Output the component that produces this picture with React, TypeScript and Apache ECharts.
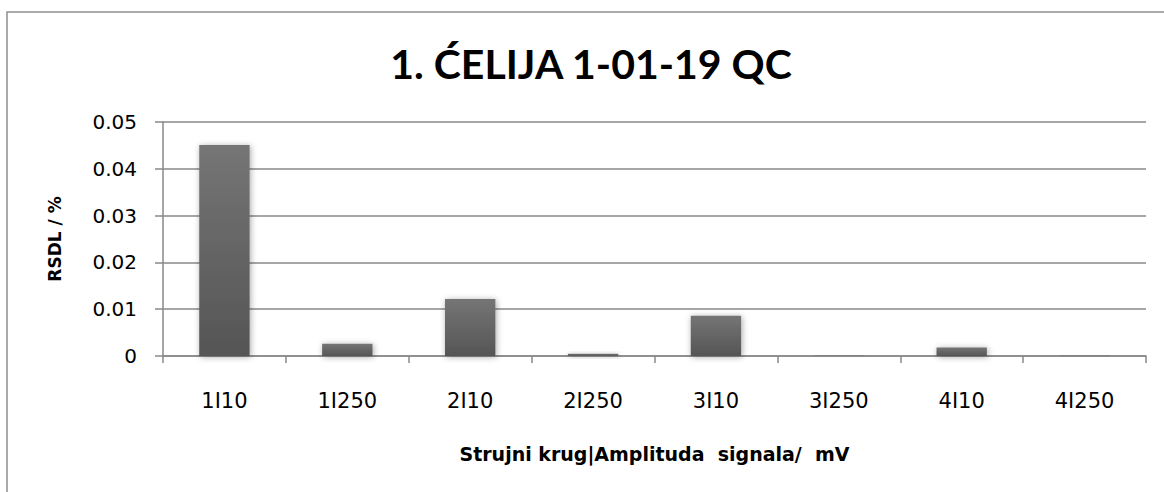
import React, { useEffect, useRef } from "react";
import * as echarts from "echarts";

const categories = ["1I10", "1I250", "2I10", "2I250", "3I10", "3I250", "4I10", "4I250"];
const rsdlValues = [0.0451, 0.0026, 0.0122, 0.0005, 0.0086, 0.0001, 0.0018, 0.0001];
const yTicks = { min: 0, max: 0.05, interval: 0.01 };
const titleText = "1. ĆELIJA 1-01-19 QC";
const yAxisName = "RSDL / %";
const xAxisName = "Strujni krug|Amplituda  signala/  mV";

export default function App() {
  const ref = useRef<HTMLDivElement>(null);
  useEffect(() => {
    if (!ref.current) return;
    const chart = echarts.init(ref.current, undefined, { renderer: "svg" });
    const titleFont = "Lato, 'Open Sans', sans-serif";
    const font = "'DejaVu Sans', 'Open Sans', sans-serif";
    chart.setOption({
      animation: false,
      backgroundColor: "#ffffff",
      title: {
        text: titleText,
        left: 586,
        top: 38,
        textAlign: "center",
        textStyle: { fontFamily: titleFont, fontSize: 41, fontWeight: "bold", color: "#000" },
      },
      graphic: [
        {
          type: "rect",
          shape: { x: 7, y: 12, width: 1200, height: 600 },
          style: { fill: "none", stroke: "#8f8f8f", lineWidth: 1.5 },
          silent: true,
        },
      ],
      grid: { left: 163, right: 18, top: 122, bottom: 136 },
      xAxis: {
        type: "category",
        data: categories,
        name: xAxisName,
        nameLocation: "middle",
        nameGap: 88,
        nameTextStyle: { fontFamily: font, fontSize: 19, fontWeight: "bold", color: "#000" },
        axisLine: { show: true, lineStyle: { color: "#888", width: 1.5 } },
        axisTick: { show: true, length: 7, lineStyle: { color: "#888", width: 1.5 } },
        axisLabel: { fontFamily: font, fontSize: 21, color: "#000", margin: 34 },
      },
      yAxis: {
        type: "value",
        min: yTicks.min,
        max: yTicks.max,
        interval: yTicks.interval,
        name: yAxisName,
        nameLocation: "middle",
        nameGap: 100,
        nameTextStyle: { fontFamily: font, fontSize: 17, fontWeight: "bold", color: "#000" },
        axisLine: { show: true, lineStyle: { color: "#888", width: 1.5 } },
        axisTick: { show: true, length: 8, lineStyle: { color: "#888", width: 1.5 } },
        axisLabel: {
          fontFamily: font,
          fontSize: 20,
          color: "#000",
          margin: 26,
          formatter: (v: number) => (v === 0 ? "0" : v.toFixed(2)),
        },
        splitLine: { show: true, lineStyle: { color: "#888", width: 1.5 } },
      },
      series: [
        {
          type: "bar",
          data: rsdlValues,
          barWidth: "41%",
          itemStyle: {
            color: new echarts.graphic.LinearGradient(0, 0, 0, 1, [
              { offset: 0, color: "#757575" },
              { offset: 1, color: "#555555" },
            ]),
            shadowBlur: 6,
            shadowColor: "rgba(0,0,0,0.35)",
            shadowOffsetX: 1,
            shadowOffsetY: 1,
          },
        },
      ],
    });
    return () => chart.dispose();
  }, []);
  return (
    <div
      ref={ref}
      style={{ position: "fixed", left: 0, top: 0, width: 1164, height: 492 }}
    />
  );
}
